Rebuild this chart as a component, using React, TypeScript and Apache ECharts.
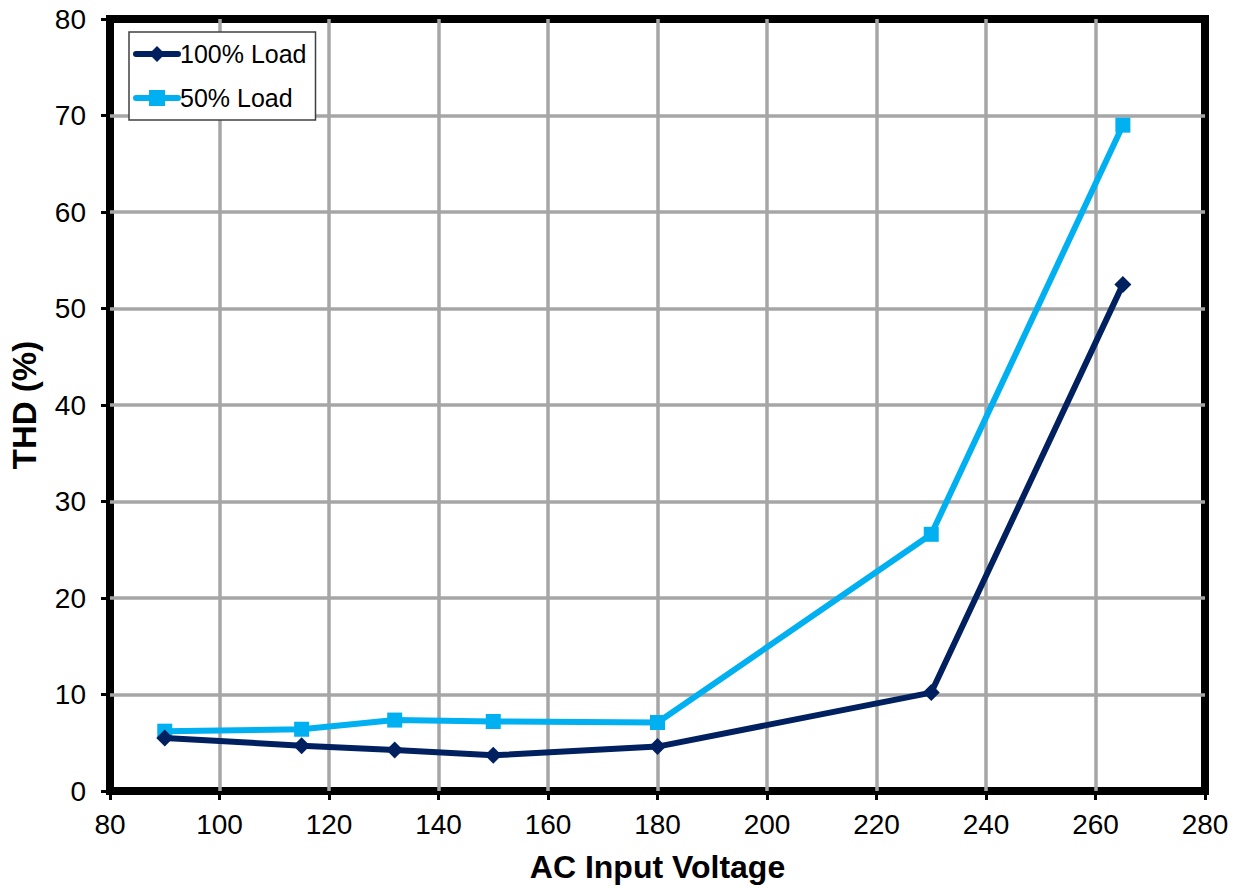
import React, { useEffect, useRef } from "react";
import * as echarts from "echarts";

const voltages = [90, 115, 132, 150, 180, 230, 265];
const load100 = [5.5, 4.7, 4.25, 3.7, 4.6, 10.2, 52.5];
const load50 = [6.2, 6.4, 7.35, 7.2, 7.1, 26.6, 69.0];
const seriesNames = ["100% Load", "50% Load"];
const xTitle = "AC Input Voltage";
const yTitle = "THD (%)";

const FONT = "Arial, 'Liberation Sans', sans-serif";

export default function App() {
  const ref = useRef<HTMLDivElement>(null);
  useEffect(() => {
    if (!ref.current) return;
    const chart = echarts.init(ref.current, undefined, { renderer: "svg" });
    const pairs = (ys: number[]) => voltages.map((v, i) => [v, ys[i]]);
    chart.setOption({
      animation: false,
      backgroundColor: "#ffffff",
      textStyle: { fontFamily: FONT },
      grid: {
        left: 110,
        right: 38,
        top: 19,
        bottom: 96,
        show: true,
        borderColor: "#000000",
        borderWidth: 8,
        backgroundColor: "transparent",
      },
      legend: {
        orient: "vertical",
        left: 129,
        top: 32,
        backgroundColor: "#ffffff",
        borderColor: "#404040",
        borderWidth: 1.5,
        borderRadius: 0,
        padding: [9, 9, 9, 4],
        itemWidth: 42,
        itemHeight: 20,
        itemGap: 18,
        lineStyle: { width: 6, cap: "round" },
        textStyle: { fontSize: 25, lineHeight: 26, color: "#000", fontFamily: FONT, padding: [0, 0, 0, -3] },
        data: seriesNames,
      },
      xAxis: {
        type: "value",
        min: 80,
        max: 280,
        interval: 20,
        name: xTitle,
        nameLocation: "middle",
        nameGap: 60,
        nameTextStyle: { fontSize: 32, fontWeight: "bold", color: "#000", fontFamily: FONT },
        axisLine: { show: false },
        axisTick: { show: true, inside: false, length: 9, lineStyle: { color: "#000", width: 3 } },
        axisLabel: { fontSize: 28, color: "#000", margin: 19, fontFamily: FONT },
        splitLine: {
          show: true,
          showMinLine: false,
          showMaxLine: false,
          lineStyle: { color: "#A6A6A6", width: 3.5 },
        },
      },
      yAxis: {
        type: "value",
        min: 0,
        max: 80,
        interval: 10,
        name: yTitle,
        nameLocation: "middle",
        nameGap: 69,
        nameRotate: 90,
        nameTextStyle: { fontSize: 33, fontWeight: "bold", color: "#000", fontFamily: FONT },
        axisLine: { show: false },
        axisTick: { show: true, inside: false, length: 9, lineStyle: { color: "#000", width: 3 } },
        axisLabel: { fontSize: 28, color: "#000", margin: 24, fontFamily: FONT },
        splitLine: {
          show: true,
          showMinLine: false,
          showMaxLine: false,
          lineStyle: { color: "#A6A6A6", width: 3.5 },
        },
      },
      series: [
        {
          name: seriesNames[0],
          type: "line",
          data: pairs(load100),
          symbol: "diamond",
          symbolSize: 17,
          itemStyle: { color: "#002060" },
          lineStyle: { color: "#002060", width: 6, cap: "round" },
          z: 3,
        },
        {
          name: seriesNames[1],
          type: "line",
          data: pairs(load50),
          symbol: "rect",
          symbolSize: 15,
          itemStyle: { color: "#00B0F0" },
          lineStyle: { color: "#00B0F0", width: 6, cap: "round" },
          z: 2,
        },
      ],
    });
    return () => chart.dispose();
  }, []);
  return (
    <div
      ref={ref}
      style={{ position: "fixed", left: 0, top: 0, width: 1243, height: 888 }}
    />
  );
}
